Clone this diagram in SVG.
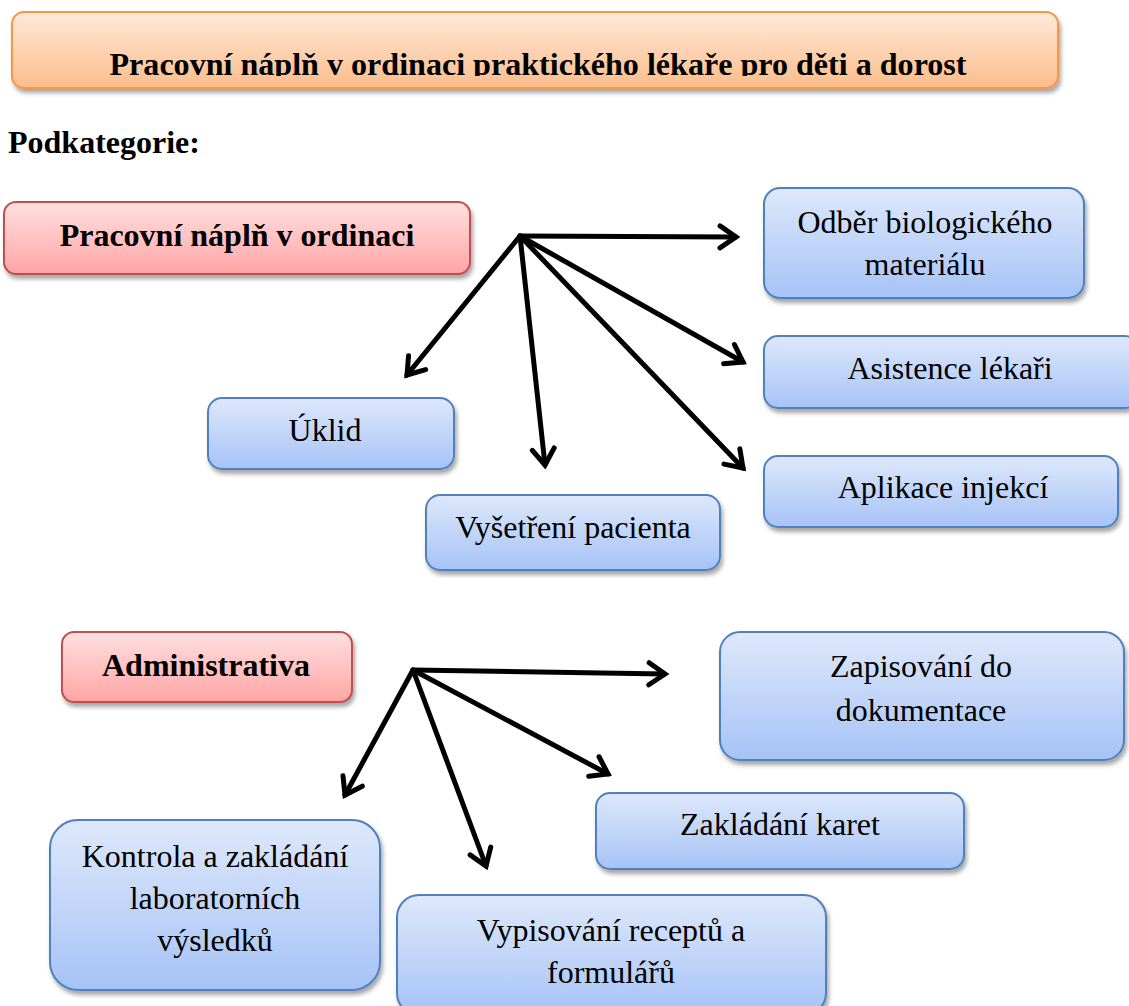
<svg xmlns="http://www.w3.org/2000/svg" width="1129" height="1006" viewBox="0 0 1129 1006">
  <style>
    .t { font-family: "Liberation Serif", "Times New Roman", serif; fill: #000; }
    .b { font-weight: bold; }
    .n { font-size: 32px; text-anchor: middle; }
    .h { font-size: 32px; text-anchor: middle; font-weight: bold; }
    .blue { fill: url(#gBlue); stroke: #4f81bd; stroke-width: 2; filter: url(#sh); }
    .red { fill: url(#gRed); stroke: #c0504d; stroke-width: 2; filter: url(#sh); }
    .arr { stroke: #000; stroke-width: 5; fill: none; stroke-linecap: round; marker-end: url(#ah); }
  </style>
  <defs>
    <linearGradient id="gBlue" x1="0" y1="0" x2="0" y2="1">
      <stop offset="0" stop-color="#dee8fb"/>
      <stop offset="1" stop-color="#a6c3f6"/>
    </linearGradient>
    <linearGradient id="gRed" x1="0" y1="0" x2="0" y2="1">
      <stop offset="0" stop-color="#ffe0e0"/>
      <stop offset="1" stop-color="#ffa5a5"/>
    </linearGradient>
    <linearGradient id="gOrange" x1="0" y1="0" x2="0" y2="1">
      <stop offset="0" stop-color="#fee9d9"/>
      <stop offset="1" stop-color="#fcbd8c"/>
    </linearGradient>
    <filter id="sh" x="-10%" y="-20%" width="130%" height="160%">
      <feDropShadow dx="2" dy="4" stdDeviation="2" flood-color="#000" flood-opacity="0.35"/>
    </filter>
    <marker id="ah" markerUnits="userSpaceOnUse" viewBox="-20 -14 26 28" markerWidth="26" markerHeight="28" refX="0" refY="0" orient="auto">
      <path d="M -16 -11 L 0 0 L -16 11" fill="none" stroke="#000" stroke-width="5" stroke-linecap="round" stroke-linejoin="miter"/>
    </marker>
    <clipPath id="titleClip">
      <rect x="12" y="12" width="1046" height="64"/>
    </clipPath>
  </defs>

  <!-- heading -->
  <g id="title">
    <rect x="12" y="12" width="1046" height="76" rx="12" fill="url(#gOrange)" stroke="#f79646" stroke-width="2" filter="url(#sh)"/>
    <text class="t b" x="538" y="75" font-size="32" text-anchor="middle" textLength="857" lengthAdjust="spacingAndGlyphs" clip-path="url(#titleClip)">Pracovní náplň v ordinaci praktického lékaře pro děti a dorost</text>
  </g>

  <text id="subcat" class="t b" x="8" y="153" font-size="32">Podkategorie:</text>

  <!-- connectors -->
  <g id="connectors">
    <line class="arr" x1="520" y1="236" x2="736" y2="237"/>
    <line class="arr" x1="520" y1="236" x2="407" y2="375"/>
    <line class="arr" x1="520" y1="236" x2="545" y2="465"/>
    <line class="arr" x1="520" y1="236" x2="743" y2="362"/>
    <line class="arr" x1="520" y1="236" x2="743" y2="468"/>
    <line class="arr" x1="413" y1="670" x2="665" y2="674"/>
    <line class="arr" x1="413" y1="670" x2="345" y2="795"/>
    <line class="arr" x1="413" y1="670" x2="486" y2="866"/>
    <line class="arr" x1="413" y1="670" x2="608" y2="774"/>
  </g>

  <!-- first category -->
  <g id="cat-ordinace">
    <rect class="red" x="4" y="202" width="466" height="72" rx="12"/>
    <text class="t h" x="237" y="246">Pracovní náplň v ordinaci</text>
  </g>
  <g id="odber">
    <rect class="blue" x="764" y="188" width="320" height="110" rx="16"/>
    <text class="t n" x="925" y="233">Odběr biologického</text>
    <text class="t n" x="925" y="275">materiálu</text>
  </g>
  <g id="asistence">
    <rect class="blue" x="764" y="336" width="375" height="72" rx="14"/>
    <text class="t n" x="950" y="379">Asistence lékaři</text>
  </g>
  <g id="aplikace">
    <rect class="blue" x="764" y="456" width="354" height="71" rx="14"/>
    <text class="t n" x="943" y="498">Aplikace injekcí</text>
  </g>
  <g id="uklid">
    <rect class="blue" x="208" y="398" width="246" height="71" rx="14"/>
    <text class="t n" x="325" y="441">Úklid</text>
  </g>
  <g id="vysetreni">
    <rect class="blue" x="426" y="495" width="294" height="75" rx="14"/>
    <text class="t n" x="573" y="538">Vyšetření pacienta</text>
  </g>

  <!-- second category -->
  <g id="cat-administrativa">
    <rect class="red" x="62" y="632" width="290" height="70" rx="12"/>
    <text class="t h" x="206" y="676">Administrativa</text>
  </g>
  <g id="zapisovani">
    <rect class="blue" x="720" y="632" width="404" height="128" rx="20"/>
    <text class="t n" x="921" y="677">Zapisování do</text>
    <text class="t n" x="921" y="721">dokumentace</text>
  </g>
  <g id="zakladani">
    <rect class="blue" x="596" y="793" width="368" height="76" rx="14"/>
    <text class="t n" x="780" y="835">Zakládání karet</text>
  </g>
  <g id="kontrola">
    <rect class="blue" x="50" y="820" width="330" height="170" rx="28"/>
    <text class="t n" x="215" y="867">Kontrola a zakládání</text>
    <text class="t n" x="215" y="909">laboratorních</text>
    <text class="t n" x="215" y="951">výsledků</text>
  </g>
  <g id="vypisovani">
    <rect class="blue" x="397" y="895" width="429" height="120" rx="22"/>
    <text class="t n" x="611" y="941">Vypisování receptů a</text>
    <text class="t n" x="611" y="983">formulářů</text>
  </g>
</svg>
